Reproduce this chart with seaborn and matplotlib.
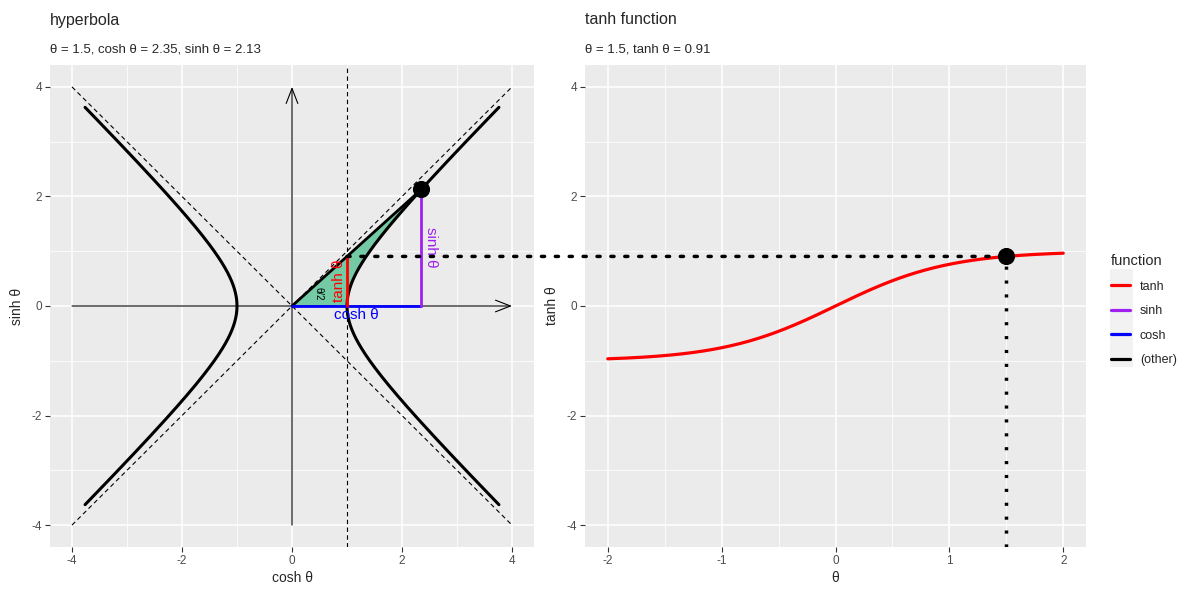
import numpy as np
import pandas as pd
import matplotlib
matplotlib.use("Agg")
import matplotlib.pyplot as plt
import seaborn as sns
from matplotlib.patches import ConnectionPatch, Rectangle, Polygon
from matplotlib.lines import Line2D

# values
theta = 1.5
t_lo, t_hi = -2.0, 2.0
asym_lim = 4.0
fn_names = ["tanh", "sinh", "cosh", "(other)"]
fn_colors = ["#FF0000", "#A020F0", "#0000FF", "#000000"]
ticks_left = [-4, -2, 0, 2, 4]
ticks_theta = [-2, -1, 0, 1, 2]

cosh_t = np.cosh(theta)
sinh_t = np.sinh(theta)
tanh_t = np.tanh(theta)

t = np.linspace(t_lo, t_hi, 301)
hyp = pd.DataFrame({"x": np.cosh(t), "y": np.sinh(t)})
tanh_df = pd.DataFrame({"theta": t, "tanh": np.tanh(t)})

sns.set_theme(style="darkgrid", rc={
    "axes.facecolor": "#EBEBEB",
    "grid.color": "white",
    "axes.edgecolor": "none",
    "xtick.bottom": True, "ytick.left": True,
    "xtick.color": "#333333", "ytick.color": "#333333",
    "xtick.labelcolor": "#4D4D4D", "ytick.labelcolor": "#4D4D4D",
    "xtick.major.size": 3.5, "ytick.major.size": 3.5,
    "xtick.major.width": 0.8, "ytick.major.width": 0.8,
    "xtick.major.pad": 2, "ytick.major.pad": 2,
    "axes.unicode_minus": False,
})
plt.rcParams["font.family"] = ["Liberation Sans", "DejaVu Sans"]

fig = plt.figure(figsize=(12, 6), dpi=100)
ax1 = fig.add_axes([50 / 1200, 53 / 600, 484 / 1200, 482 / 600])
ax2 = fig.add_axes([585 / 1200, 53 / 600, 501 / 1200, 482 / 600])

dots = (0, (0.9, 3.1))

def style_axes(ax, xt, yt):
    ax.set_xticks(xt)
    ax.set_yticks(yt)
    ax.set_xticks([(a + b) / 2 for a, b in zip(xt[:-1], xt[1:])], minor=True)
    ax.set_yticks([(a + b) / 2 for a, b in zip(yt[:-1], yt[1:])], minor=True)
    ax.grid(which="major", color="white", lw=1.1)
    ax.grid(which="minor", color="white", lw=0.55)
    ax.tick_params(axis="both", which="major", labelsize=8.5)
    ax.tick_params(axis="both", which="minor", length=0)
    ax.set_axisbelow(True)

# ---- left: hyperbola
ax = ax1
ax.set_xlim(-4.4, 4.4)
ax.set_ylim(-4.4, 4.4)
style_axes(ax, ticks_left, ticks_left)

# asymptotes
sns.lineplot(x=[-asym_lim, asym_lim], y=[-asym_lim, asym_lim], ax=ax, color="black",
             lw=0.8, linestyle=(0, (4, 3)), legend=False)
sns.lineplot(x=[-asym_lim, asym_lim], y=[asym_lim, -asym_lim], ax=ax, color="black",
             lw=0.8, linestyle=(0, (4, 3)), legend=False)
ax.axvline(1, color="black", lw=0.8, linestyle=(0, (4, 3)))

# coordinate arrows
arrow_kw = dict(arrowstyle="->,head_length=0.9,head_width=0.35", lw=0.8, color="black",
                shrinkA=0, shrinkB=0)
ax.annotate("", xy=(asym_lim, 0), xytext=(-asym_lim, 0), arrowprops=arrow_kw)
ax.annotate("", xy=(0, asym_lim), xytext=(0, -asym_lim), arrowprops=arrow_kw)

# shaded sector
ts = np.linspace(theta, 0, 80)
sector = np.vstack([[0, 0], np.column_stack([np.cosh(ts), np.sinh(ts)]), [0, 0]])
ax.add_patch(Polygon(sector, closed=True, facecolor="#66C79E", edgecolor="none", alpha=0.9, zorder=2))

# hyperbola branches
sns.lineplot(data=hyp, x="x", y="y", sort=False, estimator=None, ax=ax, color="black", lw=2.2, zorder=3)
sns.lineplot(x=-hyp["x"], y=hyp["y"], sort=False, estimator=None, ax=ax, color="black", lw=2.2, zorder=3)

# ray from origin
sns.lineplot(x=[0, cosh_t], y=[0, sinh_t], estimator=None, ax=ax, color="black", lw=2.0, zorder=4)

# function segments
ax.plot([0, cosh_t], [0, 0], color=fn_colors[2], lw=2.0, zorder=4)
ax.plot([1, 1], [0, tanh_t], color=fn_colors[0], lw=2.0, zorder=4)
ax.plot([cosh_t, cosh_t], [0, sinh_t], color=fn_colors[1], lw=2.0, zorder=4)

sns.scatterplot(x=[cosh_t], y=[sinh_t], ax=ax, color="black", s=130, zorder=5, edgecolor="black")

ax.text(0.98, tanh_t / 2, "tanh θ", rotation=90, color=fn_colors[0], ha="right", va="center",
        fontsize=11, zorder=6)
ax.text(cosh_t + 0.04, sinh_t / 2, "sinh θ", rotation=-90, color=fn_colors[1], ha="left", va="center",
        fontsize=11, zorder=6)
ax.text(cosh_t / 2, -0.03, "cosh θ", color=fn_colors[2], ha="center", va="top",
        fontsize=11, zorder=6)
ax.text(0.49, 0.23, "θ/2", rotation=-90, color="black", ha="center", va="center",
        fontsize=7, zorder=6)

ax.set_xlabel("cosh θ", fontsize=10, labelpad=3)
ax.set_ylabel("sinh θ", fontsize=10, labelpad=6)
ax.set_title(f"θ = {theta:g}, cosh θ = {cosh_t:.2f}, sinh θ = {sinh_t:.2f}",
             loc="left", fontsize=9.5, pad=9)
fig.text(50 / 1200, 1 - 20 / 600, "hyperbola", fontsize=11.5, ha="left", va="center")

# ---- right: tanh
ax = ax2
ax.set_xlim(-2.2, 2.2)
ax.set_ylim(-4.4, 4.4)
style_axes(ax, ticks_theta, ticks_left)
sns.lineplot(data=tanh_df, x="theta", y="tanh", ax=ax, color=fn_colors[0], lw=2.3, zorder=3)
ax.plot([theta, theta], [-4.4, tanh_t], color="black", lw=2.5, linestyle=dots, zorder=2)
sns.scatterplot(x=[theta], y=[tanh_t], ax=ax, color="black", s=130, zorder=5, edgecolor="black")
ax.set_xlabel("θ", fontsize=10, labelpad=3)
ax.set_ylabel("tanh θ", fontsize=10, labelpad=6)
ax.set_title(f"θ = {theta:g}, tanh θ = {tanh_t:.2f}", loc="left", fontsize=9.5, pad=9)
fig.text(585 / 1200, 1 - 20 / 600, "tanh function", fontsize=11.5, ha="left", va="center")

# dotted link across panels
con = ConnectionPatch(xyA=(1, tanh_t), coordsA=ax1.transData, xyB=(theta, tanh_t), coordsB=ax2.transData,
                      color="black", lw=2.5, linestyle=dots, zorder=2)
fig.add_artist(con)

# legend
fig.add_artist(Rectangle((1110 / 1200, 1 - 367 / 600), 23 / 1200, 98 / 600,
                         transform=fig.transFigure, facecolor="#F2F2F2", edgecolor="none"))
handles = [Line2D([0], [0], color=c, lw=2.3) for c in fn_colors]
fig.legend(handles, fn_names, title="function", loc="upper left",
           bbox_to_anchor=(1100 / 1200, 1 - 243 / 600), frameon=False,
           fontsize=9, title_fontsize=10.5, handlelength=1.5, labelspacing=1.0,
           handletextpad=0.8, alignment="left")

fig.savefig("out.png", dpi=100)
